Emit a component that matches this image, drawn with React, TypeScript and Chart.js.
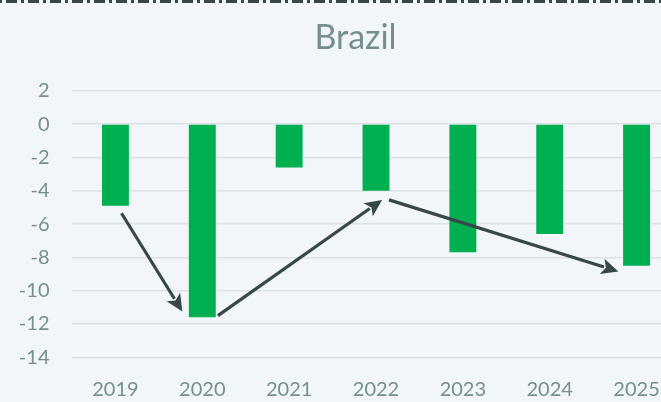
import React, { useEffect, useRef } from "react";
import { Chart, registerables } from "chart.js";

Chart.register(...registerables);

const categories = ["2019", "2020", "2021", "2022", "2023", "2024", "2025"];
const balance = [-4.9, -11.6, -2.6, -4.0, -7.7, -6.6, -8.5];
const yMin = -14;
const yMax = 2;
const yStep = 2;
const titleText = "Brazil";

// Annotation arrows in data units (category index, value)
const arrowFromX = [0.07, 1.18, 3.15];
const arrowFromY = [-5.35, -11.5, -4.55];
const arrowToX = [0.77, 3.07, 5.79];
const arrowToY = [-11.25, -4.55, -8.85];

const BG = "#f2f6fa";
const TEXT = "#758f91";
const GREEN = "#00b050";
const ARROW = "#37474a";
const GRID = "#dbe1e6";
const FONT = "Lato, 'Open Sans', sans-serif";

const arrowsPlugin = {
  id: "arrows",
  afterDatasetsDraw(chart: any) {
    const { ctx } = chart;
    const xs = chart.scales.x;
    const ys = chart.scales.y;
    ctx.save();
    ctx.strokeStyle = ARROW;
    ctx.fillStyle = ARROW;
    ctx.lineWidth = 3.2;
    ctx.lineCap = "butt";
    for (let i = 0; i < arrowFromX.length; i++) {
      const x1 = xs.getPixelForValue(arrowFromX[i]);
      const y1 = ys.getPixelForValue(arrowFromY[i]);
      const x2 = xs.getPixelForValue(arrowToX[i]);
      const y2 = ys.getPixelForValue(arrowToY[i]);
      const ang = Math.atan2(y2 - y1, x2 - x1);
      const c = Math.cos(ang);
      const s = Math.sin(ang);
      const headLen = 17;
      const headW = 8;
      const bx = x2 - headLen * c;
      const by = y2 - headLen * s;
      ctx.beginPath();
      ctx.moveTo(x1, y1);
      ctx.lineTo(bx + 2 * c, by + 2 * s);
      ctx.stroke();
      ctx.beginPath();
      ctx.moveTo(x2, y2);
      ctx.lineTo(bx + headW * s, by - headW * c);
      ctx.lineTo(bx + 4 * c, by + 4 * s);
      ctx.lineTo(bx - headW * s, by + headW * c);
      ctx.closePath();
      ctx.fill();
    }
    ctx.restore();
  },
  afterDraw(chart: any) {
    const { ctx, width } = chart;
    ctx.save();
    ctx.strokeStyle = "#3c4547";
    ctx.lineWidth = 3;
    ctx.setLineDash([11, 4, 3, 4]);
    ctx.lineDashOffset = 16;
    ctx.beginPath();
    ctx.moveTo(0, 1.5);
    ctx.lineTo(width, 1.5);
    ctx.stroke();
    ctx.restore();
  },
};

export default function App() {
  const ref = useRef<HTMLCanvasElement>(null);
  useEffect(() => {
    if (!ref.current) return;
    const chart = new Chart(ref.current, {
      type: "bar",
      data: {
        labels: categories,
        datasets: [
          {
            data: balance,
            backgroundColor: GREEN,
            borderWidth: 0,
            categoryPercentage: 1,
            barPercentage: 0.31,
          },
        ],
      },
      options: {
        animation: false,
        responsive: false,
        maintainAspectRatio: false,
        layout: { padding: 0 },
        plugins: {
          legend: { display: false },
          tooltip: { enabled: false },
          title: {
            display: true,
            text: titleText,
            color: TEXT,
            font: { family: FONT, size: 34, weight: "normal" },
            padding: { top: 18, bottom: 32 },
          },
        },
        scales: {
          x: {
            grid: { display: false, drawTicks: false },
            border: { display: false },
            ticks: {
              color: TEXT,
              font: { family: FONT, size: 20 },
              padding: 20,
              maxRotation: 0,
            },
            afterFit(scale: any) {
              scale.height = 44.7;
            },
          },
          y: {
            min: yMin,
            max: yMax,
            grid: { color: GRID, lineWidth: 1.5, drawTicks: false },
            border: { display: false },
            ticks: {
              stepSize: yStep,
              color: TEXT,
              font: { family: FONT, size: 20 },
              padding: 22.5,
            },
            afterFit(scale: any) {
              scale.width = 72;
            },
          },
          yRight: {
            position: "right",
            min: yMin,
            max: yMax,
            grid: { display: false, drawTicks: false },
            border: { display: false },
            ticks: { display: false },
            afterFit(scale: any) {
              scale.width = 31;
            },
          },
        },
      },
      plugins: [arrowsPlugin],
    });
    return () => chart.destroy();
  }, []);
  return (
    <div
      style={{
        position: "fixed",
        left: 0,
        top: 0,
        width: 661,
        height: 402,
        overflow: "hidden",
        background: BG,
      }}
    >
      <canvas ref={ref} width={711} height={402} style={{ display: "block" }} />
    </div>
  );
}
